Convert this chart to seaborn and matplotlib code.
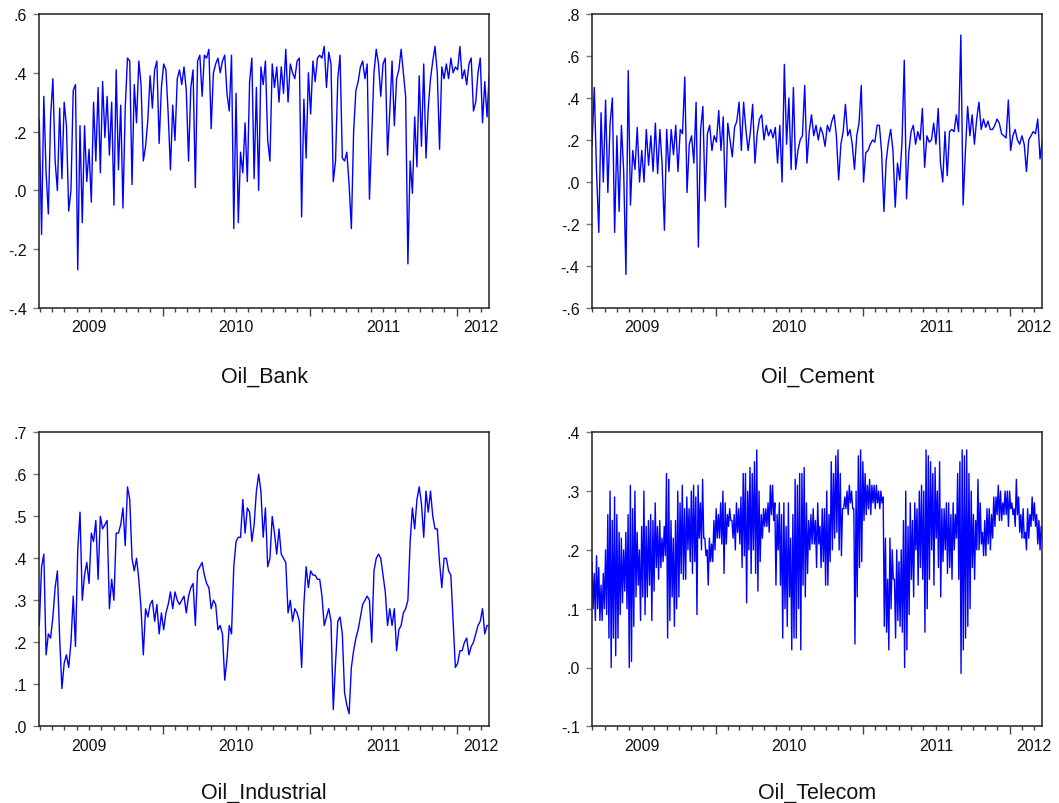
import numpy as np
import pandas as pd
import matplotlib
matplotlib.use("Agg")
import matplotlib.pyplot as plt
import matplotlib.transforms as mtransforms
import seaborn as sns

# ---------------- data ----------------
START = "2009-02-28"
END = "2012-03-22"

oil_bank = [
    .24, -.15, .32, .06, -.08, .25, .38, .10, .00, .28,
    .04, .30, .22, -.07, .00, .34, .36, -.27, .22, -.11,
    .22, .03, .14, -.04, .30, .10, .35, .06, .37, .18,
    .32, .12, .30, -.05, .41, .07, .29, -.06, .28, .45,
    .44, .02, .36, .23, .44, .36, .10, .15, .24, .39,
    .28, .41, .44, .16, .35, .43, .41, .26, .07, .29,
    .17, .38, .41, .36, .42, .34, .10, .35, .41, .01,
    .44, .46, .32, .46, .45, .48, .21, .40, .43, .45,
    .40, .44, .46, .33, .27, .46, -.13, .33, -.11, .13,
    .06, .23, .03, .37, .45, .04, .35, .00, .42, .36,
    .44, .17, .10, .43, .35, .42, .30, .42, .33, .48,
    .30, .43, .40, .38, .44, .45, -.09, .31, .11, .40,
    .26, .44, .37, .45, .46, .45, .49, .35, .47, .43,
    .03, .10, .38, .46, .11, .10, .13, .02, -.13, .20,
    .34, .37, .42, .44, .38, .43, -.03, .19, .40, .48,
    .43, .32, .43, .45, .12, .27, .44, .22, .38, .41,
    .48, .40, .32, -.25, .10, -.01, .25, .08, .39, .15,
    .43, .11, .28, .38, .44, .49, .40, .14, .42, .38,
    .43, .38, .45, .40, .42, .41, .49, .38, .41, .36,
    .43, .45, .27, .30, .40, .45, .23, .37, .25, .40,
]

oil_cement = [
    .17, .45, .05, -.24, .33, .00, .39, -.05, .28, .40,
    -.24, .22, -.14, .27, .05, -.44, .53, -.11, .15, .06,
    .26, .00, .15, .00, .25, .08, .22, .05, .28, .04,
    .25, .08, -.23, .25, .05, .25, .13, .27, .05, .25,
    .23, .50, -.05, .18, .22, .09, .38, -.31, .25, .36,
    -.09, .23, .27, .15, .22, .19, .34, .15, .31, -.12,
    .28, .20, .12, .26, .29, .38, .15, .38, .25, .15,
    .24, .37, .09, .23, .30, .32, .20, .27, .22, .25,
    .21, .26, .09, .27, .00, .56, .18, .40, .06, .45,
    .06, .15, .20, .22, .46, .09, .24, .32, .22, .27,
    .20, .26, .23, .17, .27, .24, .29, .32, .22, .01,
    .18, .24, .37, .22, .25, .18, .06, .22, .28, .46,
    .00, .14, .15, .18, .20, .19, .27, .27, .14, -.14,
    .10, .19, .25, .15, -.12, .09, .01, .19, .58, -.08,
    .14, .24, .27, .18, .24, .20, .35, .07, .22, .19,
    .20, .28, .18, .35, .09, .00, .24, .03, .24, .25,
    .24, .32, .24, .70, -.11, .14, .36, .22, .32, .18,
    .30, .38, .25, .30, .26, .29, .25, .25, .27, .30,
    .28, .23, .22, .21, .39, .15, .22, .25, .20, .18,
    .22, .18, .05, .20, .22, .24, .23, .30, .11, .20,
]

oil_industrial = [
    .24, .38, .41, .17, .22, .21, .26, .33, .37, .21,
    .09, .15, .17, .14, .20, .31, .19, .42, .51, .30,
    .36, .39, .34, .46, .44, .49, .35, .50, .47, .48,
    .49, .28, .35, .30, .46, .46, .48, .52, .43, .57,
    .54, .40, .37, .40, .35, .28, .17, .28, .26, .29,
    .30, .25, .29, .22, .27, .23, .27, .29, .32, .28,
    .32, .30, .29, .30, .31, .27, .31, .33, .34, .24,
    .37, .38, .39, .36, .34, .33, .28, .30, .29, .23,
    .24, .22, .11, .16, .24, .22, .38, .44, .45, .45,
    .54, .46, .52, .51, .44, .48, .56, .60, .56, .45,
    .52, .38, .40, .50, .46, .41, .47, .41, .40, .39,
    .27, .30, .25, .28, .27, .25, .14, .29, .38, .33,
    .37, .36, .36, .35, .35, .31, .24, .26, .28, .25,
    .04, .15, .25, .26, .22, .08, .05, .03, .14, .18,
    .21, .23, .26, .29, .30, .31, .30, .20, .37, .40,
    .41, .40, .36, .32, .24, .28, .24, .28, .18, .23,
    .24, .27, .28, .30, .44, .52, .47, .54, .57, .53,
    .45, .56, .51, .56, .50, .47, .47, .39, .33, .40,
    .40, .37, .36, .25, .14, .15, .18, .18, .20, .21,
    .17, .19, .20, .22, .24, .25, .28, .22, .24, .24,
]

# Oil_Telecom swings between a high and a low reading from one day to the next;
# the two readings per step are listed separately.
oil_telecom_high = [
    .18, .16, .19, .17, .14, .16, .20, .26, .30, .25,
    .29, .26, .23, .22, .20, .23, .26, .31, .27, .30,
    .23, .20, .24, .30, .24, .25, .26, .25, .28, .24,
    .25, .22, .24, .33, .32, .25, .22, .25, .30, .28,
    .31, .27, .29, .27, .30, .31, .29, .31, .28, .32,
    .22, .20, .22, .21, .25, .27, .26, .28, .30, .28,
    .26, .27, .25, .26, .28, .27, .29, .33, .33, .30,
    .34, .33, .35, .37, .30, .26, .27, .27, .28, .31,
    .31, .28, .26, .28, .26, .28, .24, .28, .22, .26,
    .32, .31, .33, .33, .34, .28, .25, .26, .27, .25,
    .28, .24, .27, .27, .30, .26, .35, .33, .36, .37,
    .33, .27, .29, .30, .31, .30, .27, .30, .36, .37,
    .35, .33, .31, .32, .31, .31, .31, .30, .30, .29,
    .22, .15, .22, .20, .15, .20, .18, .20, .25, .30,
    .24, .28, .25, .28, .27, .30, .31, .30, .37, .36,
    .35, .33, .34, .30, .35, .27, .27, .28, .28, .26,
    .28, .26, .33, .35, .37, .36, .37, .33, .30, .26,
    .25, .32, .28, .23, .25, .27, .27, .26, .29, .29,
    .31, .30, .28, .30, .30, .30, .28, .27, .32, .29,
    .26, .27, .23, .27, .26, .29, .28, .26, .25, .24,
]
oil_telecom_low = [
    .10, .08, .10, .08, .08, .10, .09, .05, .00, .05,
    .02, .05, .09, .11, .13, .10, .00, .01, .07, .12,
    .14, .08, .12, .09, .12, .14, .08, .13, .17, .15,
    .17, .18, .19, .05, .08, .12, .07, .10, .12, .16,
    .15, .15, .20, .18, .16, .18, .09, .22, .20, .22,
    .19, .14, .18, .18, .20, .22, .22, .21, .16, .21,
    .24, .25, .22, .20, .23, .21, .17, .19, .11, .20,
    .16, .20, .16, .13, .18, .22, .24, .24, .23, .26,
    .25, .14, .20, .14, .05, .10, .07, .12, .03, .05,
    .05, .10, .03, .14, .12, .16, .20, .21, .21, .17,
    .21, .17, .18, .14, .14, .18, .20, .22, .23, .20,
    .19, .27, .27, .26, .28, .27, .04, .12, .17, .18,
    .25, .26, .27, .26, .28, .27, .28, .27, .28, .07,
    .06, .03, .10, .15, .05, .08, .07, .06, .00, .03,
    .09, .15, .12, .20, .14, .17, .15, .06, .10, .15,
    .20, .14, .22, .17, .12, .18, .20, .16, .17, .15,
    .20, .22, .15, -.01, .03, .05, .07, .10, .17, .15,
    .20, .20, .21, .19, .19, .21, .20, .22, .24, .26,
    .25, .25, .26, .26, .24, .27, .26, .24, .26, .23,
    .22, .22, .20, .22, .24, .25, .24, .21, .20, .22,
]
oil_telecom = [v for pair in zip(oil_telecom_high, oil_telecom_low) for v in pair]

titles = ["Oil_Bank", "Oil_Cement", "Oil_Industrial", "Oil_Telecom"]
y_limits = [(-0.4, 0.6), (-0.6, 0.8), (0.0, 0.7), (-0.1, 0.4)]
y_ticks = [
    [-0.4, -0.2, 0.0, 0.2, 0.4, 0.6],
    [-0.6, -0.4, -0.2, 0.0, 0.2, 0.4, 0.6, 0.8],
    [0.0, 0.1, 0.2, 0.3, 0.4, 0.5, 0.6, 0.7],
    [-0.1, 0.0, 0.1, 0.2, 0.3, 0.4],
]
year_labels = ["2009", "2010", "2011", "2012"]
year_label_dates = ["2009-07-02", "2010-07-02", "2011-07-02", "2012-03-01"]
year_starts = ["2010-01-01", "2011-01-01", "2012-01-01"]
series = [oil_bank, oil_cement, oil_industrial, oil_telecom]

# ---------------- styling ----------------
sns.set_theme(style="white")
plt.rcParams["font.family"] = ["Liberation Sans", "DejaVu Sans"]

W, H = 1059, 804
fig = plt.figure(figsize=(W / 100, H / 100), dpi=100)

# axes rectangles in pixels: left, top, right, bottom
rects = [
    (39.3, 15.0, 489.3, 309.0),
    (592.0, 15.0, 1042.3, 309.0),
    (39.3, 433.3, 489.3, 727.3),
    (592.0, 433.3, 1042.3, 727.3),
]
title_baselines = [382.3, 382.3, 798.3, 798.3]

LINE = "#0000FF"


def fmt(v):
    s = f"{v:.1f}"
    return s.replace("0.", ".")


months = pd.date_range("2009-03-01", "2012-03-01", freq="MS")
majors = pd.to_datetime(year_starts)
minors = months[~months.isin(majors)]

for k in range(4):
    l, t, r, b = rects[k]
    ax = fig.add_axes([l / W, 1 - b / H, (r - l) / W, (b - t) / H])
    vals = series[k]
    df = pd.DataFrame({
        "date": pd.date_range(START, END, periods=len(vals)),
        "value": vals,
    })
    sns.lineplot(data=df, x="date", y="value", ax=ax, color=LINE,
                 linewidth=1.0, estimator=None, legend=False)
    ax.set_xlim(pd.Timestamp(START), pd.Timestamp(END))
    ax.set_ylim(*y_limits[k])
    ax.set_xlabel("")
    ax.set_ylabel("")

    ax.set_yticks(y_ticks[k])
    ax.set_yticklabels([fmt(v) for v in y_ticks[k]], fontsize=11.5, color="#111111")

    ax.set_xticks(majors)
    ax.set_xticks(minors, minor=True)
    ax.set_xticklabels([])
    ax.tick_params(axis="x", which="major", direction="out", length=6,
                   width=1.0, color="#444444", bottom=True)
    ax.tick_params(axis="x", which="minor", direction="out", length=3,
                   width=1.0, color="#444444", bottom=True)
    ax.tick_params(axis="y", which="major", direction="out", length=4.5,
                   width=1.0, color="#777777", left=True, pad=4.5)

    for sp in ax.spines.values():
        sp.set_visible(True)
        sp.set_color("#222222")
        sp.set_linewidth(1.1)

    trans = mtransforms.blended_transform_factory(ax.transData, ax.transAxes)
    axh = b - t
    for lab, d in zip(year_labels, year_label_dates):
        ax.text(pd.Timestamp(d), -23.3 / axh, lab, transform=trans,
                ha="center", va="baseline", fontsize=11.5, color="#111111",
                clip_on=False)

    fig.text((l + r) / 2 / W, 1 - title_baselines[k] / H, titles[k],
             ha="center", va="baseline", fontsize=15.5, color="#111111")

fig.savefig("out.png", dpi=100, facecolor="white")
